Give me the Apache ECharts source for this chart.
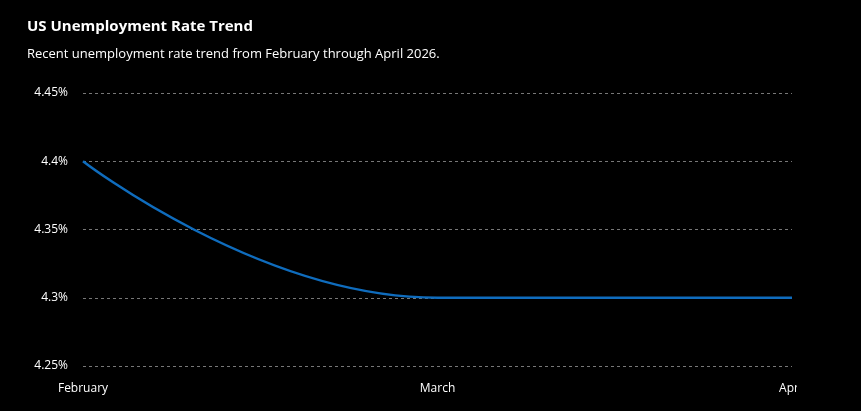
<!DOCTYPE html>
<html><head><meta charset="utf-8">
<script src="https://cdn.jsdelivr.net/npm/echarts@6/dist/echarts.min.js"></script>
<style>html,body{margin:0;background:#000;width:861px;height:411px;overflow:hidden}
#wrap{position:absolute;left:0;top:0;width:797px;height:411px;overflow:hidden}
#c{width:820px;height:411px}</style></head>
<body><div id="wrap"><div id="c"></div></div>
<script>
const categories=["February","March","April"];
const rates=[4.4,4.3,4.3];
const yTicks={min:4.25,max:4.45,interval:0.05};
const chart=echarts.init(document.getElementById('c'));
const F='"Open Sans","Noto Sans",sans-serif';
chart.setOption({
 backgroundColor:'#000',
 title:{text:'US Unemployment Rate Trend',subtext:'Recent unemployment rate trend from February through April 2026.',left:22,top:14,itemGap:14,
  textStyle:{color:'#fff',fontSize:15,fontWeight:'bold',fontFamily:F},
  subtextStyle:{color:'#fff',fontSize:13,fontFamily:F}},
 grid:{left:83,right:28,top:93,bottom:45,containLabel:false,outerBoundsMode:'none'},
 xAxis:{type:'category',data:categories,boundaryGap:false,axisLine:{show:false},axisTick:{show:false},
  axisLabel:{color:'#fff',fontSize:12,fontFamily:F,margin:17,hideOverlap:false}},
 yAxis:{type:'value',min:yTicks.min,max:yTicks.max,interval:yTicks.interval,
  axisLabel:{color:'#fff',fontSize:12,fontFamily:F,margin:15,formatter:v=>parseFloat(v.toFixed(2))+'%'},
  splitLine:{lineStyle:{color:'#777',type:[3,3]}}},
 series:[{type:'line',data:rates,smooth:true,smoothMonotone:'x',showSymbol:false,
  lineStyle:{color:'#0f6cbd',width:2.5},itemStyle:{color:'#0f6cbd'}}]
});
</script></body></html>
